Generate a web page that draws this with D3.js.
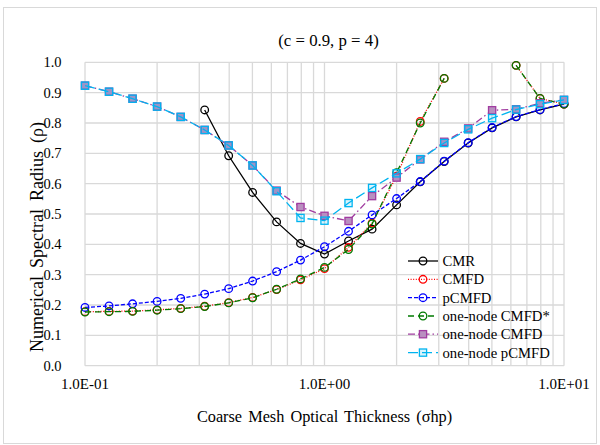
<!DOCTYPE html>
<html>
<head>
<meta charset="utf-8">
<script src="https://cdn.jsdelivr.net/npm/d3@7"></script>
<style>
  body { margin: 0; background: #fff; }
  text { font-family: "Liberation Serif", "Times New Roman", serif; fill: #000; }
</style>
</head>
<body>
<div id="chart"></div>
<script>
let width = 600;
let height = 445;

// optical thickness (sigma h p)
let thickness = [0.1, 0.126, 0.158, 0.2, 0.251, 0.316, 0.398, 0.501, 0.631, 0.794,
  1, 1.26, 1.58, 2, 2.51, 3.16, 3.98, 5.01, 6.31, 7.94, 10];

let cmr = [null, null, null, null, null, 0.843, 0.692, 0.571, 0.474, 0.403,
  0.368, 0.411, 0.450, 0.530, 0.606, 0.673, 0.734, 0.784, 0.820, 0.843, 0.862];
let cmfd = [0.178, 0.179, 0.180, 0.184, 0.189, 0.196, 0.208, 0.225, 0.251, 0.283,
  0.320, 0.390, 0.470, 0.625, 0.805, 0.947, null, null, 0.990, 0.881, 0.862];
let pcmfd = [0.192, 0.197, 0.204, 0.212, 0.222, 0.236, 0.254, 0.279, 0.310, 0.348,
  0.392, 0.443, 0.497, 0.551, 0.607, 0.674, 0.735, 0.785, 0.821, 0.844, 0.864];
let oneCmfdStar = [0.177, 0.178, 0.179, 0.183, 0.188, 0.195, 0.207, 0.224, 0.252, 0.286,
  0.324, 0.383, 0.467, 0.636, 0.800, 0.947, null, null, 0.990, 0.881, 0.862];
let oneCmfd = [0.923, 0.903, 0.880, 0.854, 0.820, 0.777, 0.726, 0.660, 0.577, 0.523,
  0.494, 0.477, 0.559, 0.620, 0.680, 0.738, 0.782, 0.842, 0.845, 0.865, 0.876];
let onePcmfd = [0.923, 0.903, 0.880, 0.854, 0.820, 0.777, 0.726, 0.660, 0.575, 0.487,
  0.478, 0.536, 0.586, 0.634, 0.681, 0.734, 0.779, 0.816, 0.844, 0.862, 0.876];

let seriesNames = ["CMR", "CMFD", "pCMFD", "one-node CMFD*", "one-node CMFD", "one-node pCMFD"];
let yTicks = [0, 0.1, 0.2, 0.3, 0.4, 0.5, 0.6, 0.7, 0.8, 0.9, 1.0];
let xMajor = [0.1, 1, 10];
let xMajorLabels = ["1.0E-01", "1.0E+00", "1.0E+01"];

let series = [
  { name: seriesNames[0], values: cmr, color: "#000000", dash: null, marker: "circle", fill: "none" },
  { name: seriesNames[1], values: cmfd, color: "#ff0000", dash: "1,1.6", marker: "circle", fill: "none" },
  { name: seriesNames[2], values: pcmfd, color: "#0000ff", dash: "4,2", marker: "circle", fill: "none" },
  { name: seriesNames[3], values: oneCmfdStar, color: "#007a00", dash: "6,4", marker: "circle", fill: "none" },
  { name: seriesNames[4], values: oneCmfd, color: "#a03ca0", dash: "7,3,1.5,3", marker: "square", fill: "#b98fc0" },
  { name: seriesNames[5], values: onePcmfd, color: "#00b4f0", dash: "10,4", marker: "square", fill: "rgba(0,180,240,0.15)" }
];

let margin = { left: 85, right: 36, top: 62.3, bottom: 79.3 };

let svg = d3.select("#chart").append("svg")
  .attr("width", width)
  .attr("height", height);

// outer chart border
svg.append("rect")
  .attr("x", 3.5).attr("y", 7.5)
  .attr("width", 593).attr("height", 436)
  .attr("fill", "none")
  .attr("stroke", "#d9d9d9");

let x = d3.scaleLog()
  .domain([0.1, 10])
  .range([margin.left, width - margin.right]);

let y = d3.scaleLinear()
  .domain([0, 1])
  .range([height - margin.bottom, margin.top]);

// gridlines
let xGrid = [];
[0.1, 1].forEach(function (dec) {
  for (let k = 1; k <= 9; k++) xGrid.push(dec * k);
});
xGrid.push(10);

let grid = svg.append("g");
grid.selectAll("vline")
  .data(xGrid)
  .enter()
  .append("line")
  .attr("x1", d => x(d)).attr("x2", d => x(d))
  .attr("y1", y(0)).attr("y2", y(1))
  .attr("stroke", "#d9d9d9")
  .attr("stroke-width", 1.3);

grid.selectAll("hline")
  .data(yTicks)
  .enter()
  .append("line")
  .attr("x1", x(0.1)).attr("x2", x(10))
  .attr("y1", d => y(d)).attr("y2", d => y(d))
  .attr("stroke", "#d9d9d9")
  .attr("stroke-width", 1.3);

// y tick labels
svg.selectAll("ylabels")
  .data(yTicks)
  .enter()
  .append("text")
  .attr("x", 61.5)
  .attr("y", d => y(d) + 5)
  .attr("text-anchor", "end")
  .style("font-size", "14.5px")
  .text(d => d3.format(".1f")(d));

// x tick labels
svg.selectAll("xlabels")
  .data(xMajor)
  .enter()
  .append("text")
  .attr("x", d => x(d))
  .attr("y", 389)
  .attr("text-anchor", "middle")
  .style("font-size", "15px")
  .text((d, i) => xMajorLabels[i]);

// titles
svg.append("text")
  .attr("x", 328.5).attr("y", 46)
  .attr("text-anchor", "middle")
  .style("font-size", "16.8px")
  .text("(c = 0.9, p = 4)");

svg.append("text")
  .attr("x", 324.5).attr("y", 422)
  .attr("text-anchor", "middle")
  .style("font-size", "16.3px")
  .style("word-spacing", "2px")
  .text("Coarse Mesh Optical Thickness (σhp)");

svg.append("text")
  .attr("transform", "translate(42.5, 237) rotate(-90)")
  .attr("text-anchor", "middle")
  .style("font-size", "18px")
  .style("word-spacing", "3.5px")
  .text("Numerical Spectral Radius (ρ)");

let line = d3.line()
  .defined(d => d[1] !== null)
  .x(d => x(d[0]))
  .y(d => y(d[1]));

function drawMarker(g, s, cx, cy) {
  if (s.marker === "circle") {
    g.append("circle")
      .attr("cx", cx).attr("cy", cy).attr("r", 3.8)
      .attr("fill", s.fill)
      .attr("stroke", s.color)
      .attr("stroke-width", 1.3);
  } else {
    g.append("rect")
      .attr("x", cx - 3.6).attr("y", cy - 3.6)
      .attr("width", 7.2).attr("height", 7.2)
      .attr("fill", s.fill)
      .attr("stroke", s.color)
      .attr("stroke-width", 1.3);
  }
}

series.forEach(function (s) {
  let pts = thickness.map((t, i) => [t, s.values[i]]);
  let g = svg.append("g");
  g.append("path")
    .datum(pts)
    .attr("d", line)
    .attr("fill", "none")
    .attr("stroke", s.color)
    .attr("stroke-width", 1.3)
    .attr("stroke-dasharray", s.dash);
  pts.filter(d => d[1] !== null).forEach(function (d) {
    drawMarker(g, s, x(d[0]), y(d[1]));
  });
});

// legend
let legendY = [261, 279.3, 297.7, 316, 334.2, 352.6];
let legend = svg.append("g");
series.forEach(function (s, i) {
  let ly = legendY[i];
  legend.append("line")
    .attr("x1", 408).attr("x2", 438)
    .attr("y1", ly).attr("y2", ly)
    .attr("stroke", s.color)
    .attr("stroke-width", 1.3)
    .attr("stroke-dasharray", s.dash);
  drawMarker(legend, s, 423, ly);
  legend.append("text")
    .attr("x", 442.5)
    .attr("y", ly + 5)
    .style("font-size", "14.7px")
    .text(s.name);
});
</script>
</body>
</html>
